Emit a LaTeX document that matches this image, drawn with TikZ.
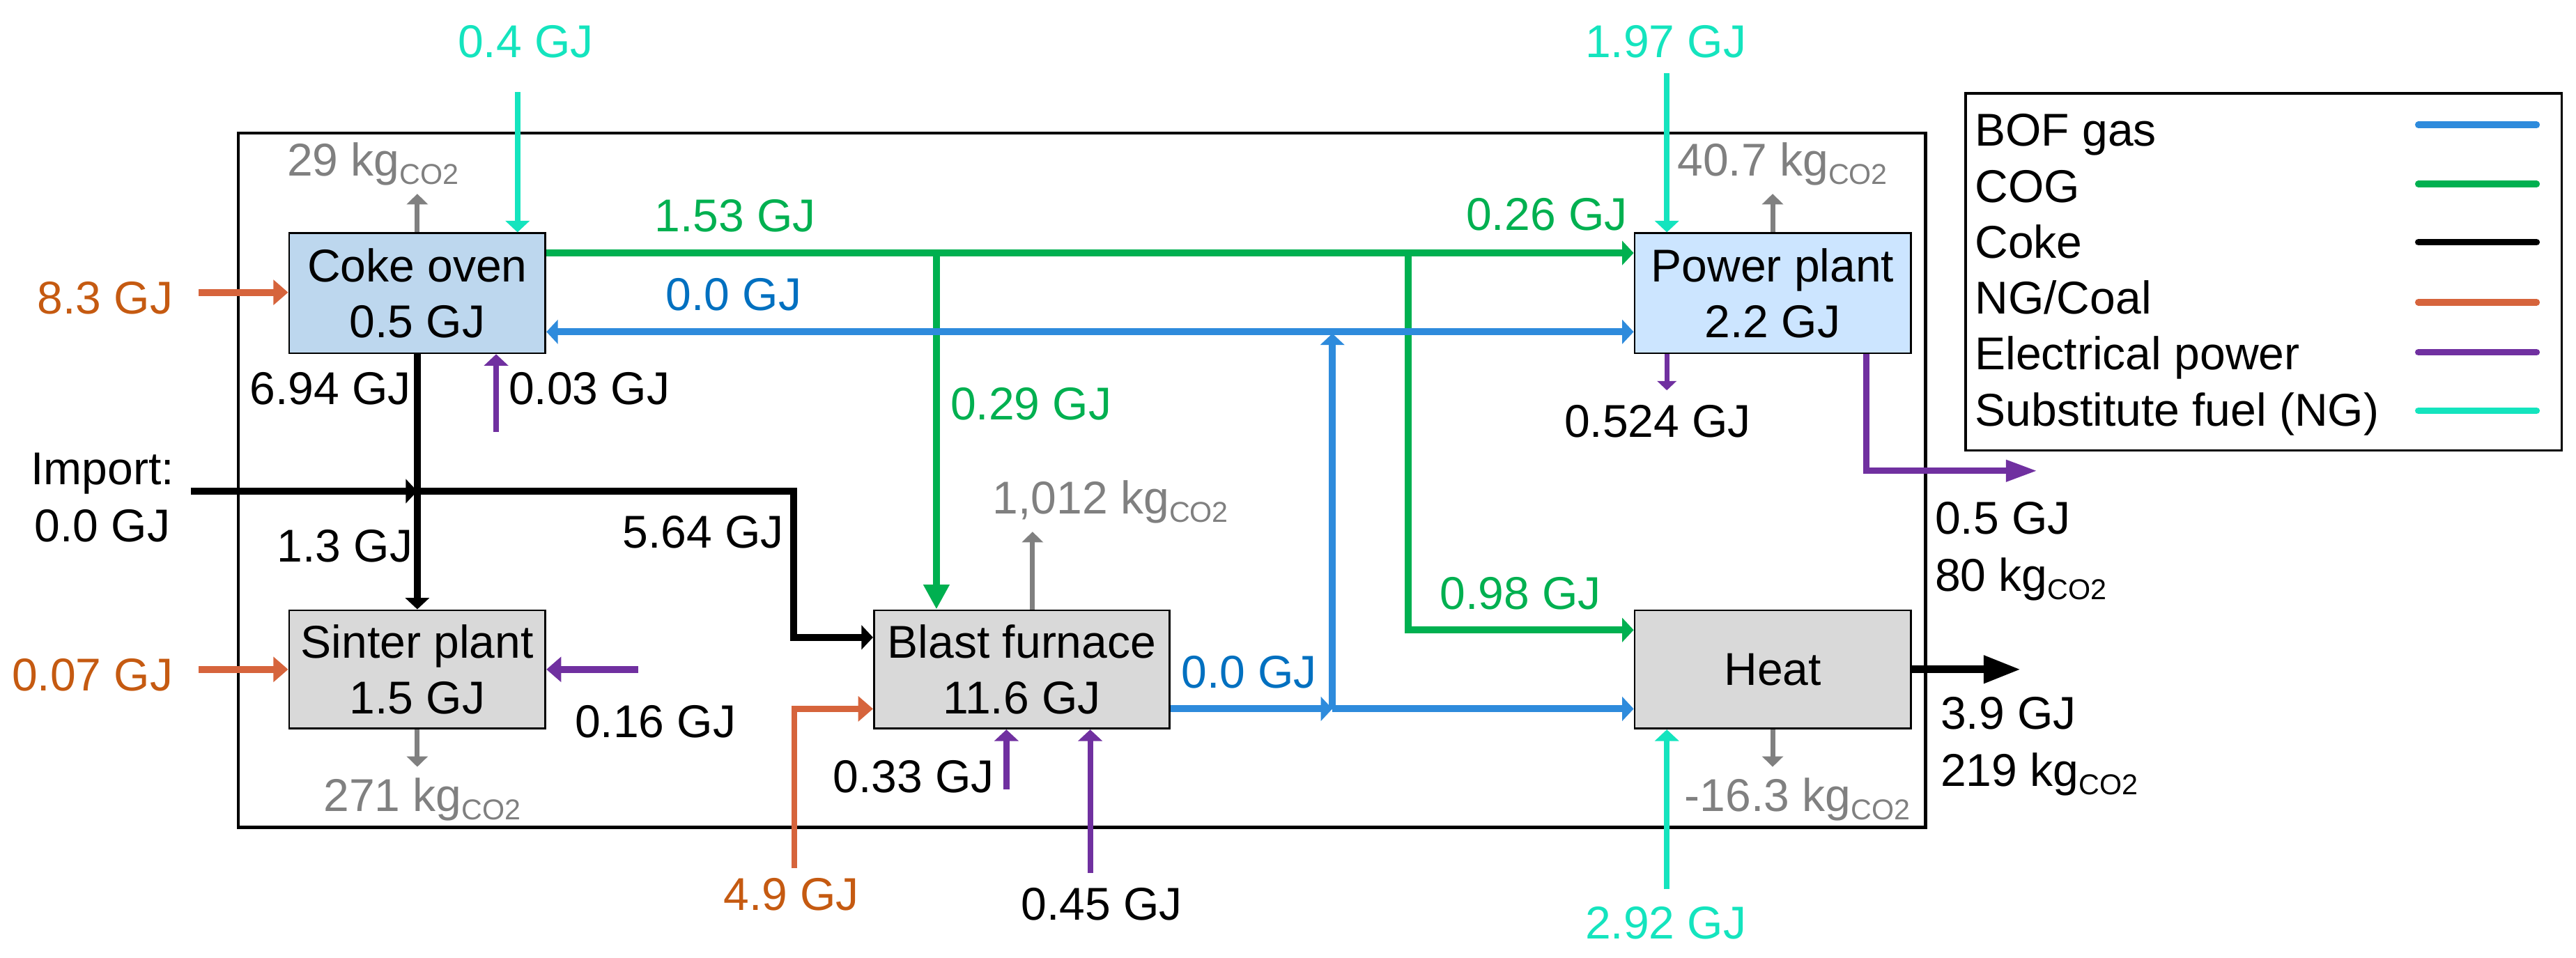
\documentclass[tikz,border=0pt]{standalone}
\usepackage{fontspec}
\setmainfont{Liberation Sans}
\usetikzlibrary{arrows.meta,calc}
\definecolor{bof}{RGB}{46,139,220}
\definecolor{boftxt}{RGB}{0,112,192}
\definecolor{cog}{RGB}{0,176,80}
\definecolor{ng}{RGB}{214,100,60}
\definecolor{ngtxt}{RGB}{197,90,17}
\definecolor{elec}{RGB}{112,48,160}
\definecolor{subf}{RGB}{20,228,190}
\definecolor{cotwo}{RGB}{128,128,128}
\definecolor{boxblue}{RGB}{189,215,238}
\definecolor{boxbluetwo}{RGB}{204,229,255}
\definecolor{boxgrey}{RGB}{217,217,217}
\newcommand{\kgcotwo}{kg\raisebox{-5pt}{\fontsize{17.5}{17.5}\selectfont CO2}}
\begin{document}
\begin{tikzpicture}[x=1pt,y=-1pt, font=\fontsize{28}{34}\selectfont,
  box/.style={draw, line width=1.2pt, inner sep=0pt, align=center, minimum height=73pt},
  lbl/.style={anchor=base, inner sep=0pt},
  lbll/.style={anchor=base west, inner sep=0pt},
  flow/.style={line width=4.2pt},
  thinflow/.style={line width=3.5pt},
  tipM/.style={-{Triangle[length=7pt,width=14.5pt]}},
  tipO/.style={-{Triangle[length=9pt,width=15pt]}},
  tipG/.style={-{Triangle[length=15pt,width=15pt]}},
  tipS/.style={-{Triangle[length=6.4pt,width=12.7pt]}},
  tipX/.style={-{Triangle[length=5.7pt,width=11.6pt]}},
  tipP/.style={-{Triangle[length=19pt,width=12.5pt]}},
  tipL/.style={-{Triangle[length=22.6pt,width=16pt]}},
  greyarrow/.style={cotwo, line width=3pt, tipS},
]
\path[use as bounding box] (0,0) rectangle (1568,583);

% frame
\node[draw, line width=2pt, minimum width=1027pt, minimum height=422.5pt, inner sep=0pt] (frame) at (658.5,292.25) {};

% boxes
\node[box, fill=boxblue, minimum width=156pt] (coke) at (254,178.5) {Coke oven\\0.5 GJ};
\node[box, fill=boxbluetwo, minimum width=168pt] (power) at (1079,178.5) {Power plant\\2.2 GJ};
\node[box, fill=boxgrey, minimum width=156pt, minimum height=72pt] (sinter) at (254,407.5) {Sinter plant\\1.5 GJ};
\node[box, fill=boxgrey, minimum width=180pt, minimum height=72pt] (bf) at (622,407.5) {Blast furnace\\11.6 GJ};
\node[box, fill=boxgrey, minimum width=168pt, minimum height=72pt] (heat) at (1079,407.5) {Heat};

% level coordinates
\coordinate (yG) at (0,154);
\coordinate (yB) at (0,202);
\coordinate (yH) at (0,383.5);
\coordinate (yB2) at (0,431.5);
\coordinate (xG1) at (570,0);
\coordinate (xG2) at (857,0);
\coordinate (jB) at (811,431.5);
\coordinate (jT) at (811,203);
\coordinate (jTL) at (811,202);
\coordinate (imp) at (116,299);
\coordinate (jI) at (254,299);
\coordinate (kb) at (483,388);
\coordinate (o83) at (121,178);
\coordinate (o07) at (121,407.5);
\coordinate (o49) at (483.5,528.6);
\coordinate (p03) at (302,263);
\coordinate (p16) at (388.5,407.5);
\coordinate (p33) at (612.6,480.5);
\coordinate (p45) at (663.6,531.5);
\coordinate (p524) at (1014.6,237.6);
\coordinate (pxo) at (1136,0);
\coordinate (pout) at (1240,286.6);
\coordinate (c04) at (315,56);
\coordinate (c197) at (1014.6,44.5);
\coordinate (c292) at (1014.6,541.3);
\coordinate (g29) at (254,118);
\coordinate (g40) at (1079,118);
\coordinate (g1012) at (628.5,323.7);
\coordinate (g271) at (254,466.8);
\coordinate (g163) at (1079,466.8);
\coordinate (hout) at (1230,407.5);

% COG
\draw[cog, flow, tipM] (coke.east |- yG) -- (power.west |- yG);
\draw[cog, flow, tipG] (xG1 |- yG) -- (xG1 |- bf.north);
\draw[cog, flow, tipM] (xG2 |- yG) -- (xG2 |- yH) -- (heat.west |- yH);

% BOF gas
\draw[bof, flow, tipM] (bf.east |- yB2) -- (jB);
\draw[bof, flow, tipM] (jB) -- (heat.west |- yB2);
\draw[bof, flow, tipM] (jB) -- (jT);
\draw[bof, flow, tipM] (jTL) -- (coke.east |- yB);
\draw[bof, flow, tipM] (jTL) -- (power.west |- yB);

% Coke
\draw[black, line width=4.5pt, tipM] (coke.south) -- (sinter.north);
\draw[black, line width=4.5pt, tipM] (imp) -- (jI);
\draw[black, line width=4.5pt, tipM] (jI) -| (kb) -- (bf.west |- kb);
\draw[black, line width=4.7pt, tipL] (heat.east) -- (hout);

% NG/Coal
\draw[ng, flow, tipO] (o83) -- (coke.west |- o83);
\draw[ng, flow, tipO] (o07) -- (sinter.west |- o07);
\draw[ng, thinflow, tipO] (o49) |- (bf.west |- yB2);

% Electrical power
\draw[elec, thinflow, tipM] (p03) -- (p03 |- coke.south);
\draw[elec, flow, tipO] (p16) -- (sinter.east |- p16);
\draw[elec, thinflow, tipM] (p33) -- (p33 |- bf.south);
\draw[elec, thinflow, tipM] (p45) -- (p45 |- bf.south);
\draw[elec, line width=2.8pt, tipX] (p524 |- power.south) -- (p524);
\draw[elec, line width=3.8pt, tipP] (pxo |- power.south) |- (pout);

% Substitute fuel
\draw[subf, thinflow, tipM] (c04) -- (c04 |- coke.north);
\draw[subf, thinflow, tipM] (c197) -- (c197 |- power.north);
\draw[subf, thinflow, tipM] (c292) -- (c292 |- heat.south);

% CO2
\draw[greyarrow] (coke.north) -- (g29);
\draw[greyarrow] (power.north) -- (g40);
\draw[greyarrow] (g1012 |- bf.north) -- (g1012);
\draw[greyarrow] (sinter.south) -- (g271);
\draw[greyarrow] (heat.south) -- (g163);

% labels
\node[lbl, subf] (t04) at (320,35) {0.4 GJ};
\node[lbl, subf] (t197) at (1014,35) {1.97 GJ};
\node[lbl, subf] (t292) at (1014,571.7) {2.92 GJ};
\node[lbl, cog] (t153) at (447.5,141) {1.53 GJ};
\node[lbl, cog] (t026) at (941.5,140) {0.26 GJ};
\node[lbl, cog] (t029) at (627.6,255.6) {0.29 GJ};
\node[lbl, cog] (t098) at (925.6,370.7) {0.98 GJ};
\node[lbl, boftxt] (tb1) at (446.6,189) {0.0 GJ};
\node[lbl, boftxt] (tb2) at (760.3,418.8) {0.0 GJ};
\node[lbl, ngtxt] (t83) at (64,191) {8.3 GJ};
\node[lbl, ngtxt] (t007) at (56.3,420.7) {0.07 GJ};
\node[lbl, ngtxt] (t49) at (481.7,554) {4.9 GJ};
\node[lbl] (t694) at (201,246) {6.94 GJ};
\node[lbl] (t003) at (358.7,246) {0.03 GJ};
\node[lbl] (timp) at (62.4,295) {Import:};
\node[lbl] (timp2) at (62.4,329.6) {0.0 GJ};
\node[lbl] (t13) at (210,342) {1.3 GJ};
\node[lbl] (t564) at (428,333.5) {5.64 GJ};
\node[lbl] (t524) at (1009,266) {0.524 GJ};
\node[lbl] (t016) at (399,449) {0.16 GJ};
\node[lbl] (t033) at (556,482.5) {0.33 GJ};
\node[lbl] (t045) at (670.7,560) {0.45 GJ};
\node[lbll] (t05) at (1177.6,325) {0.5 GJ};
\node[lbll] (t80) at (1177.6,360) {80 \kgcotwo};
\node[lbll] (t39) at (1181,444) {3.9 GJ};
\node[lbll] (t219) at (1181,478.6) {219 \kgcotwo};
\node[lbl, cotwo] (k29) at (227,107) {29 \kgcotwo};
\node[lbl, cotwo] (k407) at (1085,107) {40.7 \kgcotwo};
\node[lbl, cotwo] (k1012) at (676,313) {1,012 \kgcotwo};
\node[lbl, cotwo] (k271) at (257,494) {271 \kgcotwo};
\node[lbl, cotwo] (k163) at (1094,494) {-16.3 \kgcotwo};

% legend
\node[draw, line width=1.5pt, minimum width=362.7pt, minimum height=217.3pt, inner sep=0pt] (legend) at (1377.85,165.45) {};
\node[lbll] (lg1) at (1202,89) {BOF gas};
\node[lbll] (lg2) at (1202,123) {COG};
\node[lbll] (lg3) at (1202,157) {Coke};
\node[lbll] (lg4) at (1202,191) {NG/Coal};
\node[lbll] (lg5) at (1202,225) {Electrical power};
\node[lbll] (lg6) at (1202,259.4) {Substitute fuel (NG)};
\begin{scope}[line width=4pt, line cap=round]
\draw[bof] (1472,76) -- (1544,76);
\draw[cog] (1472,112) -- (1544,112);
\draw[black] (1472,147.5) -- (1544,147.5);
\draw[ng] (1472,184) -- (1544,184);
\draw[elec] (1472,214.5) -- (1544,214.5);
\draw[subf] (1472,250) -- (1544,250);
\end{scope}
\end{tikzpicture}
\end{document}
